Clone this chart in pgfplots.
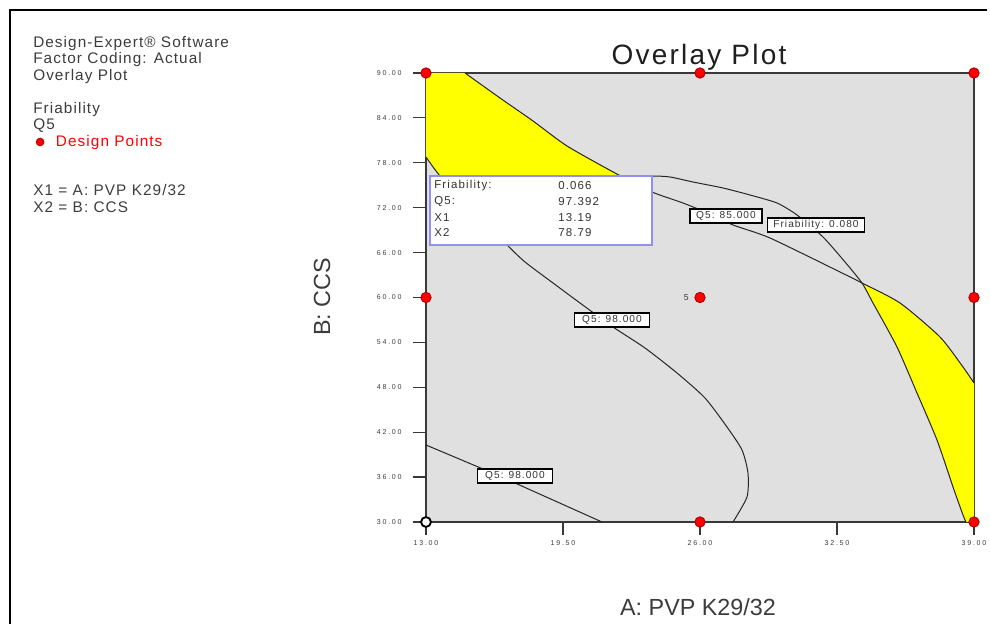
\documentclass[border=0pt]{standalone}
\usepackage{pgfplots}
\pgfplotsset{compat=1.18}
\usepackage{fontspec}
\setmainfont{Liberation Sans}
\newfontfamily\lsfont[LetterSpace=7]{Liberation Sans}
\newfontfamily\titlefont[LetterSpace=8]{Liberation Sans}
\newfontfamily\tickfam[LetterSpace=25]{Liberation Sans}
\newfontfamily\boxfam[LetterSpace=10]{Liberation Sans}
\definecolor{plotbg}{HTML}{E0E0E0}
\definecolor{axcol}{HTML}{383838}
\definecolor{txtcol}{HTML}{3C3C3C}
\definecolor{boxblue}{HTML}{9090F0}
\definecolor{dpred}{HTML}{FF0000}
\definecolor{dpedge}{HTML}{A00000}
\definecolor{yel}{HTML}{FFFF00}
\tikzset{lbl/.style={fill=white, draw=black, line width=0.9pt, font=\boxfam\fontsize{7.6}{8}\selectfont, text=black!80, inner sep=0.5pt, minimum height=10.5pt}}
\pgfplotsset{dpleg/.style={legend image code/.code={\draw[##1, mark size=2.9pt] plot coordinates {(0pt,0pt)};}}}
\begin{document}
\begin{tikzpicture}
\path[use as bounding box] (0,0) rectangle (742.5pt,468pt);
\begin{axis}[
  at={(319.5pt,76.5pt)}, anchor=south west,
  scale only axis, width=411pt, height=336.75pt,
  xmin=13, xmax=39, ymin=30, ymax=90,
  xtick={13,19.5,26,32.5,39},
  xticklabels={13.00,19.50,26.00,32.50,39.00},
  ytick={30,36,...,90},
  yticklabels={30.00,36.00,42.00,48.00,54.00,60.00,66.00,72.00,78.00,84.00,90.00},
  tick align=outside, tick pos=left,
  major tick length=9.75pt,
  every tick/.style={axcol, line width=0.9pt},
  axis line style={axcol, line width=1.1pt},
  ticklabel style={font=\tickfam\fontsize{5.3}{6}\selectfont, text=txtcol},
  yticklabel style={xshift=-5pt},
  xticklabel style={yshift=-1pt},
  /pgf/number format/assume math mode=true,
  axis background/.style={fill=plotbg},
  clip=false,
  legend style={at={(-0.7117,0.8463)}, anchor=west, draw=none, fill=none,
    font=\lsfont\fontsize{11.5}{13}\selectfont, inner sep=0pt,
    /tikz/every odd column/.style={column sep=7pt}},
]
% yellow regions
\addplot[fill=yel, draw=none, forget plot] coordinates {
 (13,90) (14.850,90) (16.511,86.659) (18.077,83.586) (19.690,80.245) (21.967,76.637) (22.1,76.236) (13.664,76.236) (13,78.775)} -- cycle;
\addplot[fill=yel, draw=none, forget plot] coordinates {
 (33.686,61.938) (35.489,59.265) (37.387,54.722) (38.478,50.713) (39,48.575) (39,30) (38.620,30) (38.478,30.936) (38.004,34.677) (37.244,40.958) (36.295,47.238) (35.347,53.386) (34.208,59.265)} -- cycle;
% Q5: 85 contour
\addplot[black!85, line width=0.75pt, smooth, tension=0.4, forget plot] coordinates {
 (14.850,90) (16.511,86.659) (18.077,83.586) (19.690,80.245) (21.967,76.637) (23.723,74.098) (25.193,72.628) (26.474,71.158) (27.566,69.688) (29.321,67.951) (32.642,63.408) (33.686,61.938) (35.489,59.265) (37.387,54.722) (38.478,50.713) (39,48.575)};
% Friability 0.080 contour
\addplot[black!85, line width=0.75pt, smooth, tension=0.4, forget plot] coordinates {
 (18.409,75.701) (21.255,76.236) (23.723,76.236) (24.577,76.102) (25.668,75.434) (27.091,74.633) (28.372,73.697) (29.653,72.628) (30.602,71.025) (31.836,68.085) (32.880,64.744) (33.686,61.938) (34.208,59.265) (35.347,53.386) (36.295,47.238) (37.244,40.958) (38.004,34.677) (38.478,30.936) (38.620,30)};
% Q5: 98 contour (main)
\addplot[black!85, line width=0.75pt, smooth, tension=0.4, forget plot] coordinates {
 (13,78.775) (13.664,76.236) (15.088,71.960) (16.843,67.016) (17.697,64.744) (19.026,61.938) (20.306,59.265) (21.872,56.058) (23.390,53.251) (24.909,49.911) (26.237,46.570) (27.281,42.695) (27.993,39.621) (28.277,36.548) (28.230,33.341) (27.566,30)};
% Q5: 98 contour (lower left)
\addplot[black!85, line width=0.75pt, forget plot] coordinates {
 (13,40.289) (15.704,37.082) (17.223,35.211) (21.350,30)};
% contour labels
\node[lbl, minimum width=54pt] at (axis cs:27.233,70.891) {Q5: 85.000};
\node[lbl, minimum width=72.75pt] at (axis cs:31.504,69.688) {Friability: 0.080};
\node[lbl, minimum width=56pt] at (axis cs:21.825,56.993) {Q5: 98.000};
\node[lbl, minimum width=56pt] at (axis cs:17.223,36.147) {Q5: 98.000};
\node[anchor=east, xshift=-5pt, font=\tickfam\fontsize{6.5}{7}\selectfont, text=txtcol] at (axis cs:26,60) {5};
% design points
\addplot[only marks, mark=*, mark size=3.9pt, mark options={fill=dpred, draw=dpedge, line width=0.6pt}, dpleg] coordinates {
 (13,90) (26,90) (39,90) (13,60) (26,60) (39,60) (26,30) (39,30)};
\addlegendentry{\textcolor{red}{Design Points}}
\addplot[only marks, mark=*, mark size=3.7pt, mark options={fill=white, draw=black, line width=1.4pt}, forget plot] coordinates {(13,30)};
\end{axis}
\begin{scope}[x=0.75pt, y=-0.75pt, yshift=468pt]
\draw[black, line width=1.5pt] (10,640) -- (10,10) -- (987,10);
\begin{scope}[every node/.style={anchor=base west, inner sep=0pt, font=\lsfont\fontsize{11.5}{13}\selectfont, text=txtcol}]
\node at (33,48) {Design-Expert® Software};
\node at (33,64) {Factor Coding: Actual};
\node at (33,81) {Overlay Plot};
\node at (33,114) {Friability};
\node at (33,130) {Q5};
\node at (33,196) {X1 = A: PVP K29/32};
\node at (33,213) {X2 = B: CCS};
\end{scope}
\node[anchor=base, font=\titlefont\fontsize{21}{25}\selectfont, text=black!88] at (699,65) {Overlay Plot};
\node[font=\fontsize{17.5}{20}\selectfont, text=txtcol] at (698,607) {A: PVP K29/32};
\node[rotate=90, font=\fontsize{17.5}{20}\selectfont, text=txtcol] at (322,297) {B: CCS};
% info box
\filldraw[fill=white, draw=boxblue, line width=1.1pt] (430,176) rectangle (652,245);
\begin{scope}[every node/.style={anchor=west, inner sep=0pt, font=\boxfam\fontsize{8.6}{9}\selectfont, text=black!80}]
\node at (434,186) {Friability:};
\node at (434,202) {Q5:};
\node at (434,218) {X1};
\node at (434,233) {X2};
\node at (558,186) {0.066};
\node at (558,202) {97.392};
\node at (558,218) {13.19};
\node at (558,233) {78.79};
\end{scope}
\end{scope}
\end{tikzpicture}
\end{document}
